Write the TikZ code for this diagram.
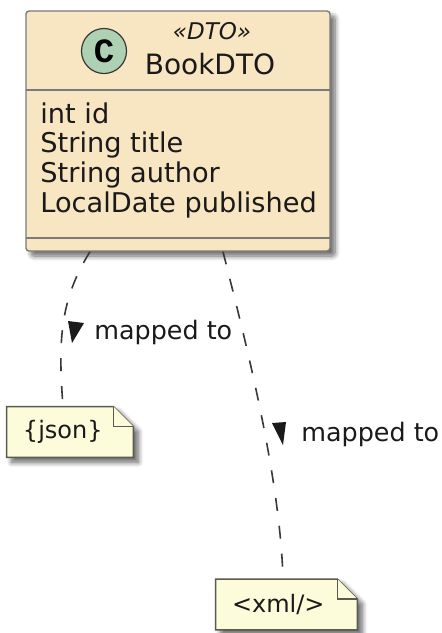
\documentclass[tikz,border=0pt]{standalone}
\usepackage{fontspec}
\setmainfont{DejaVu Sans}
\newfontfamily\spotfont{Liberation Mono}
\usetikzlibrary{positioning,shadows.blur,backgrounds}
\tikzset{>=latex}
\definecolor{classfill}{HTML}{F8E5C1}
\definecolor{classline}{HTML}{7A7A7A}
\definecolor{spotfill}{HTML}{ADD1B2}
\definecolor{notefill}{HTML}{FCFCDA}
\definecolor{noteline}{HTML}{5A5A4E}
\definecolor{edgeline}{HTML}{383838}
\definecolor{ink}{HTML}{1A1A1A}
\tikzset{
  shade/.style={blur shadow={shadow xshift=2.5pt, shadow yshift=-2.5pt, shadow blur radius=2.5pt, shadow blur steps=8, shadow opacity=60}},
  classbox/.style={draw=classline, fill=classfill, line width=0.7pt, rounded corners=1.5pt, minimum width=152pt, minimum height=120pt, inner sep=0pt, shade},
  spot/.style={circle, draw=edgeline, fill=spotfill, line width=0.6pt, minimum size=22.5pt, inner sep=0pt, font=\spotfont\bfseries\fontsize{17}{17}\selectfont},
  attr/.style={anchor=base west, inner sep=0pt, text=ink, font=\fontsize{13.6}{15}\selectfont},
  notetext/.style={text=ink, align=left, inner xsep=8pt, inner ysep=0pt, minimum height=25pt, font=\fontsize{12}{14}\selectfont},
  notebox/.style={draw=noteline, fill=notefill, line width=0.7pt},
  mapline/.style={draw=edgeline, line width=0.8pt, dash pattern=on 6.5pt off 7.5pt},
  maplabel/.style={anchor=base west, inner sep=0pt, text=ink, font=\fontsize{12.7}{14}\selectfont},
  tipfill/.style={fill=ink}
}

\begin{document}
\begin{tikzpicture}[x=0.5pt,y=-0.5pt]
  \useasboundingbox (0,0) rectangle (442,633);
  % class
  \node[classbox] (book) at (178,131) {};
  \draw[draw=classline, line width=0.7pt] (26,90) -- (330,90);
  \draw[draw=classline, line width=0.7pt] (26,238) -- (330,238);
  \node[spot] (spot) at (104,51) {C};
  \node[anchor=base, inner sep=0pt, text=ink, font=\itshape\fontsize{11.5}{12}\selectfont] (stereo) at (212,39) {«DTO»};
  \node[anchor=base, inner sep=0pt, text=ink, font=\fontsize{14}{16}\selectfont] (name) at (210,74) {BookDTO};
  \node[attr] (attr1) at (40,123) {int id};
  \node[attr] (attr2) at (40,152.7) {String title};
  \node[attr] (attr3) at (40,182.4) {String author};
  \node[attr] (attr4) at (40,212) {LocalDate published};
  % notes
  \node[notetext, text width=47pt] (json) at (70,432) {\{json\}};
  \node[notetext, text width=54.5pt] (xml) at (286.5,604.5) {<xml/>};
  \begin{scope}[on background layer]
    \draw[notebox, shade] (json.north west) -- ([xshift=-10pt]json.north east) -- ([yshift=-10pt]json.north east) -- (json.south east) -- (json.south west) -- cycle;
    \draw[notebox] ([xshift=-10pt]json.north east) |- ([yshift=-10pt]json.north east);
    \draw[notebox, shade] (xml.north west) -- ([xshift=-10pt]xml.north east) -- ([yshift=-10pt]xml.north east) -- (xml.south east) -- (xml.south west) -- cycle;
    \draw[notebox] ([xshift=-10pt]xml.north east) |- ([yshift=-10pt]xml.north east);
  \end{scope}
  % links
  \draw[mapline] ([xshift=-44pt]book.south) .. controls (60,300) and (58,340) .. ([xshift=-3.5pt]json.north);
  \draw[mapline] ([xshift=22.5pt]book.south) .. controls (240,320) and (280,470) .. ([xshift=-1.75pt]xml.north);
  \fill[tipfill] (68,321) -- (84,323) -- (72,343) -- cycle;
  \node[maplabel] (lbl1) at (94,339) {mapped to};
  \fill[tipfill] (272,423) -- (286,422) -- (283,445) -- cycle;
  \node[maplabel] (lbl2) at (301,441.5) {mapped to};
\end{tikzpicture}
\end{document}
